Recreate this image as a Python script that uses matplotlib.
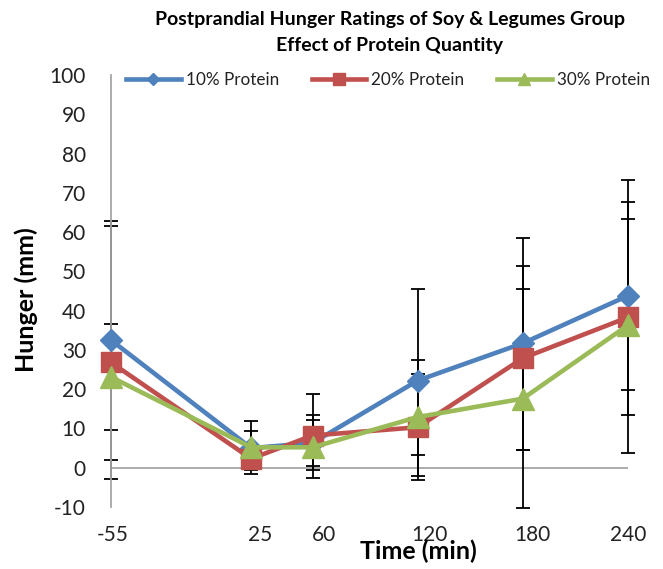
import matplotlib
matplotlib.use("Agg")
import matplotlib.pyplot as plt
from matplotlib.lines import Line2D
from matplotlib.transforms import ScaledTranslation

plt.rcParams['font.family'] = ['Lato', 'DejaVu Sans']
plt.rcParams['axes.unicode_minus'] = False

# ---- data ----
times = [-55, 25, 60, 120, 180, 240]
tick_labels = ["-55", "25", "60", "120", "180", "240"]
series_names = ["10% Protein", "20% Protein", "30% Protein"]

hunger_10 = [32.5, 5.0, 6.3, 22.2, 31.7, 43.8]
hunger_20 = [26.8, 2.3, 8.2, 10.3, 27.9, 38.3]
hunger_30 = [23.1, 5.2, 5.2, 12.9, 17.6, 36.3]

err_lo_10 = [30.5, 6.6, 5.8, 24.2, 27.3, 23.9]
err_hi_10 = [30.2, 6.8, 5.9, 23.2, 26.8, 23.9]
err_lo_20 = [29.7, 2.9, 8.8, 13.3, 23.5, 34.5]
err_hi_20 = [34.8, 2.9, 10.6, 13.5, 23.5, 34.9]
err_lo_30 = [13.6, 4.1, 7.8, 9.6, 27.8, 23.0]
err_hi_30 = [13.5, 4.1, 8.1, 14.5, 27.8, 27.1]

colors = ["#4F81BD", "#C0504D", "#9BBB59"]

W, H = 663, 569
fig = plt.figure(figsize=(W / 100, H / 100), dpi=100)
ax = fig.add_axes([111 / W, 1 - 507 / H, (628 - 111) / W, (507 - 75) / H])

series = [
    (hunger_10, err_lo_10, err_hi_10, "D", 10.7),
    (hunger_20, err_lo_20, err_hi_20, "s", 14.0),
    (hunger_30, err_lo_30, err_hi_30, "^", 15.5),
]

for (y, lo, hi, m, ms), c in zip(series, colors):
    eb = ax.errorbar(times, y, yerr=[lo, hi], fmt='none', ecolor='black',
                     elinewidth=1.3, capsize=5, capthick=1.3, zorder=2)
    for art in list(eb.lines[1]) + list(eb.lines[2]):
        art.set_clip_on(False)

for (y, lo, hi, m, ms), c, name in zip(series, colors, series_names):
    ax.plot(times, y, color=c, lw=3.3, marker=m, ms=ms, mec=c, mfc=c,
            zorder=3, clip_on=False, label=name)

ax.axhline(0, color="#A6A6A6", lw=1.3, zorder=1)

ax.set_xlim(-55, 240)
ax.set_ylim(-10, 100)
ax.set_yticks(range(-10, 101, 10))
ax.set_xticks(times)
ax.set_xticklabels(tick_labels)
ax.tick_params(axis='both', length=0, labelsize=15, colors='#222222')
ax.tick_params(axis='y', pad=18)
ax.tick_params(axis='x', pad=13)

# small rightward offsets of the category labels as in the reference
label_shift_px = [2, 9, 11, 12, 10, 0]
for lab, dx in zip(ax.get_xticklabels(), label_shift_px):
    lab.set_transform(lab.get_transform() + ScaledTranslation(dx / 100, 0, fig.dpi_scale_trans))

for s in ["top", "right", "bottom"]:
    ax.spines[s].set_visible(False)
ax.spines["left"].set_color("#A6A6A6")
ax.spines["left"].set_linewidth(1.3)

fig.text(26 / W, 1 - 300 / H, "Hunger (mm)", fontsize=18, fontweight='bold',
         rotation=90, ha='center', va='center')
fig.text(418 / W, 1 - 551 / H, "Time (min)", fontsize=18, fontweight='bold',
         ha='center', va='center')

fig.text(390 / W, 1 - 19 / H, "Postprandial Hunger Ratings of Soy & Legumes Group",
         fontsize=14, fontweight='bold', ha='center', va='center')
fig.text(390 / W, 1 - 45 / H, "Effect of Protein Quantity",
         fontsize=14, fontweight='bold', ha='center', va='center')

handles = [
    Line2D([], [], color=colors[0], lw=3.3, marker="D", ms=6),
    Line2D([], [], color=colors[1], lw=3.3, marker="s", ms=8),
    Line2D([], [], color=colors[2], lw=3.3, marker="^", ms=9),
]
fig.legend(handles, series_names, loc='center', bbox_to_anchor=(388 / W, 1 - 80 / H),
           ncol=3, frameon=False, fontsize=12.3, handlelength=3.2,
           handletextpad=0.3, columnspacing=1.9, labelcolor='#222222')

fig.savefig("out.png", dpi=100)
